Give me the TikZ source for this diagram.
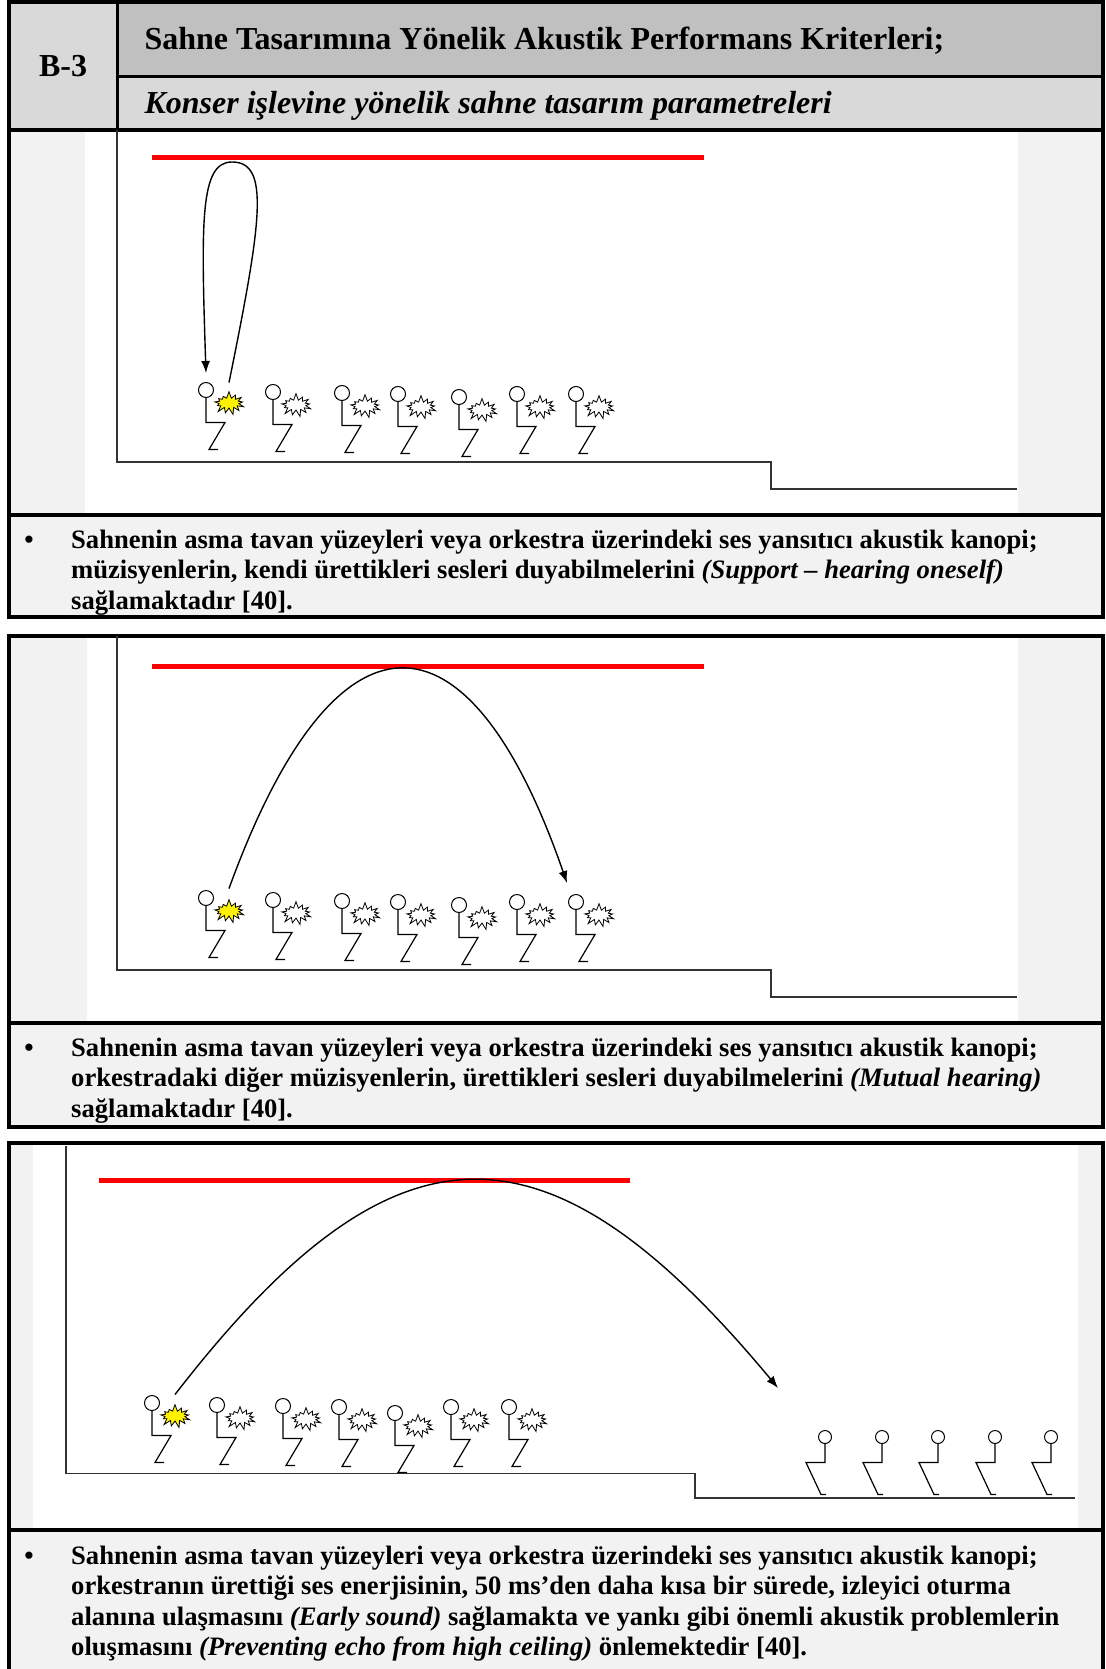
\documentclass[tikz,border=0pt]{standalone}
\usepackage{fontspec}
\setmainfont{Liberation Serif}
\usepackage{tikz}
\usetikzlibrary{arrows.meta,shapes.symbols}
\definecolor{titlegray}{HTML}{C0C0C0}
\definecolor{subgray}{HTML}{D9D9D9}
\definecolor{panelgray}{HTML}{F2F2F2}
\definecolor{floorgray}{HTML}{333333}
\tikzset{>={Latex[length=12pt,width=9pt]}}
\tikzset{
  boxline/.style={line width=4pt},
  ceiling/.style={red,line width=5pt},
  floorline/.style={floorgray,line width=1.6pt},
  headc/.style={circle,draw,line width=1pt,inner sep=0pt,minimum size=15pt},
  limb/.style={line width=1.2pt},
  burst/.style={starburst,draw,line width=0.8pt,starburst points=13,
    starburst point height=7pt,random starburst=7,
    minimum width=34pt,minimum height=24pt,inner sep=0pt},
  soundray/.style={->,line width=1.4pt},
}
\newcommand{\headfont}{\bfseries\fontsize{32}{36}\selectfont}
\newcommand{\bodyfont}{\bfseries\fontsize{26.6}{30.5}\selectfont}
% seated player: name, x, y of the head, colour of the burst
\newcommand{\musician}[4]{%
  \node[headc] at (#2,#3) (#1) {};
  \draw[limb] (#1.south) -- ++(0,24.5) -- ++(19,0) -- ++(-16,27) -- ++(9,0);
  \path (#1) ++(23,13) node[burst,fill=#4] (#1b) {};
}
% seated listener, facing the other way
\newcommand{\listener}[3]{%
  \node[headc,minimum size=13pt] at (#2,#3) (#1) {};
  \draw[limb] (#1.south) -- ++(0,18.5) -- ++(-19,0) -- ++(15,32) -- ++(5,0);
}

\begin{document}
\begin{tikzpicture}[x=1pt,y=-1pt]
          \useasboundingbox (0,0) rectangle (1105,1669);

          % header table
          \fill[subgray] (9,2) rectangle (1103,130);
          \fill[titlegray] (117,2) rectangle (1103,76.5);
          \draw[boxline] (9,2) rectangle (1103,130);
          \draw[line width=3pt] (117,2) -- (117,130) (117,76.5) -- (1103,76.5);
          \node[font=\headfont,anchor=base] at (63,76.5) (code) {B-3};
          \node[font=\headfont,anchor=base west] at (141,50) (title)
            {Sahne Tasarımına Yönelik Akustik Performans Kriterleri;};
          \node[font=\headfont\itshape,anchor=base west] at (141,114) (subtitle)
            {Konser işlevine yönelik sahne tasarım parametreleri};

          % panel frames
          \fill[panelgray] (9,130) rectangle (1103,617);
          \fill[white] (85,130) rectangle (1018,515);
          \draw[boxline] (9,130) rectangle (1103,617);
          \draw[boxline] (9,515) -- (1103,515);
          \fill[panelgray] (9,636) rectangle (1103,1127);
          \fill[white] (87,636) rectangle (1018,1022.5);
          \draw[boxline] (9,636) rectangle (1103,1127);
          \draw[boxline] (9,1022.5) -- (1103,1022.5);
          \fill[panelgray] (9,1143) rectangle (1103,1675);
          \fill[white] (33,1143) rectangle (1078,1530);
          \draw[boxline] (9,1675) -- (9,1143) -- (1103,1143) -- (1103,1675);
          \draw[boxline] (9,1530) -- (1103,1530);

          % stage section, first panel
          \draw[floorline] (117,130) -- (117,462) -- (771,462) -- (771,489) -- (1017,489);
          \draw[ceiling] (152,157.5) -- (704,157.5);
          \foreach \i/\x/\y/\c in {1/206/390/yellow,2/273/392/white,3/342/393/white,
            4/398/394/white,5/459/397/white,6/517/394/white,7/576/394/white}
            {\musician{a\i}{\x}{\y}{\c}}
          \draw[soundray] ([yshift=8pt]a1b.north) .. controls (262,220) and (270,162) .. (232,162)
            .. controls (200,162) and (201,220) .. ([yshift=9pt]a1.north);

          % stage section, second panel
          \draw[floorline] (117,636) -- (117,970) -- (771,970) -- (771,997) -- (1017,997);
          \draw[ceiling] (152,666) -- (704,666);
          \foreach \i/\x/\y/\c in {1/206/898/yellow,2/273/900/white,3/342/901/white,
            4/398/902/white,5/459/905/white,6/517/902/white,7/576/902/white}
            {\musician{b\i}{\x}{\y}{\c}}
          \coordinate (bend) at (567,883);
          \draw[soundray] ([yshift=10pt]b1b.north) .. controls (335,597) and (468,597) .. (bend);

          % stage and hall, third panel
          \draw[floorline] (66,1146) -- (66,1473.5) -- (695,1473.5) -- (695,1498) -- (1075,1498);
          \draw[ceiling] (99,1180) -- (630,1180);
          \foreach \i/\x/\y/\c in {1/152/1403/yellow,2/217/1405/white,3/283/1406/white,
            4/339/1407/white,5/395/1413/white,6/451/1407/white,7/509/1407/white}
            {\musician{c\i}{\x}{\y}{\c}}
          \foreach \i/\x in {1/825,2/882,3/938,4/995,5/1051}
            {\listener{h\i}{\x}{1437}}
          \coordinate (cend) at (778,1388);
          \draw[soundray] ([yshift=9pt]c1b.north) .. controls (395,1110) and (547,1110) .. (cend);

          % notes under each panel (base anchor sits on the last line)
          \node[font=\bodyfont,anchor=base] at (29,548) (dot1) {\textbullet};
          \node[font=\bodyfont,anchor=base west,align=left,inner sep=0pt] at (71,609) (note1)
            {Sahnenin asma tavan yüzeyleri veya orkestra üzerindeki ses yansıtıcı akustik kanopi;\\
             müzisyenlerin, kendi ürettikleri sesleri duyabilmelerini \textit{(Support – hearing oneself)}\\
             sağlamaktadır [40].};
          \node[font=\bodyfont,anchor=base] at (29,1056) (dot2) {\textbullet};
          \node[font=\bodyfont,anchor=base west,align=left,inner sep=0pt] at (71,1117) (note2)
            {Sahnenin asma tavan yüzeyleri veya orkestra üzerindeki ses yansıtıcı akustik kanopi;\\
             orkestradaki diğer müzisyenlerin, ürettikleri sesleri duyabilmelerini \textit{(Mutual hearing)}\\
             sağlamaktadır [40].};
          \node[font=\bodyfont,anchor=base] at (29,1564) (dot3) {\textbullet};
          \node[font=\bodyfont,anchor=base west,align=left,inner sep=0pt] at (71,1655.5) (note3)
            {Sahnenin asma tavan yüzeyleri veya orkestra üzerindeki ses yansıtıcı akustik kanopi;\\
             orkestranın ürettiği ses enerjisinin, 50 ms’den daha kısa bir sürede, izleyici oturma\\
             alanına ulaşmasını \textit{(Early sound)} sağlamakta ve yankı gibi önemli akustik problemlerin\\
             oluşmasını \textit{(Preventing echo from high ceiling)} önlemektedir [40].};
        \end{tikzpicture}
\end{document}
